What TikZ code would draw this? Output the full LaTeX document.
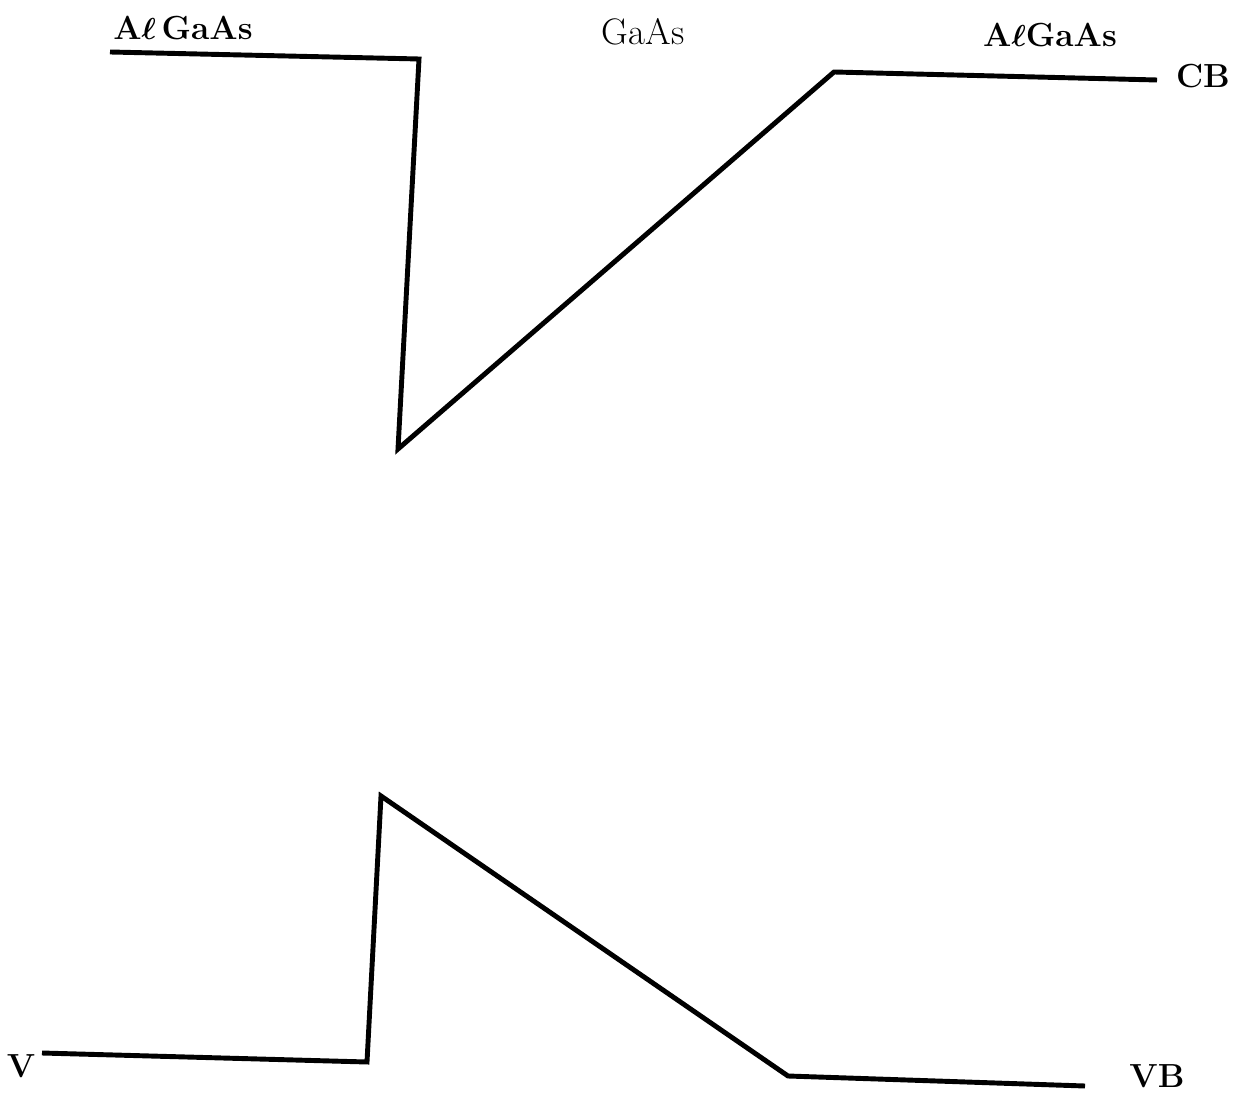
\documentclass[tikz,border=0pt]{standalone}
\usepackage{amsmath,amssymb}
\usepackage{xcolor}
\usepackage{tikz}
\usetikzlibrary{positioning}

\begin{document}
\begin{tikzpicture}[x=0.02cm, y=-0.02cm,
  band/.style={line width=2.8pt, line join=miter},
  lbl/.style={font=\fontsize{19}{22}\selectfont\bfseries\boldmath, inner sep=0pt}]
  \useasboundingbox (0,0) rectangle (1233,1097);
  % conduction band
  \coordinate (cb0) at (110,52);
  \coordinate (cb1) at (419,59);
  \coordinate (cb2) at (398,449);
  \coordinate (cb3) at (834,72);
  \coordinate (cb4) at (1157,80);
  % valence band
  \coordinate (vb0) at (42,1053);
  \coordinate (vb1) at (367,1062);
  \coordinate (vb2) at (381,796);
  \coordinate (vb3) at (788,1076);
  \coordinate (vb4) at (1085,1086);
  \draw[band] (cb0) -- (cb1) -- (cb2) -- (cb3) -- (cb4);
  \draw[band] (vb0) -- (vb1) -- (vb2) -- (vb3) -- (vb4);
  % labels
  \node[lbl] (left) at (183,28) {A$\ell$\,GaAs};
  \node[lbl, font=\fontsize{21}{24}\selectfont] (mid) at (643,32) {GaAs};
  \node[lbl] (right) at (1050,35) {A$\ell$GaAs};
  \node[lbl] (cb) at (1203,76) {CB};
  \node[lbl] (v) at (21,1066) {V};
  \node[lbl] (vb) at (1157,1076) {VB};
\end{tikzpicture}
\end{document}
